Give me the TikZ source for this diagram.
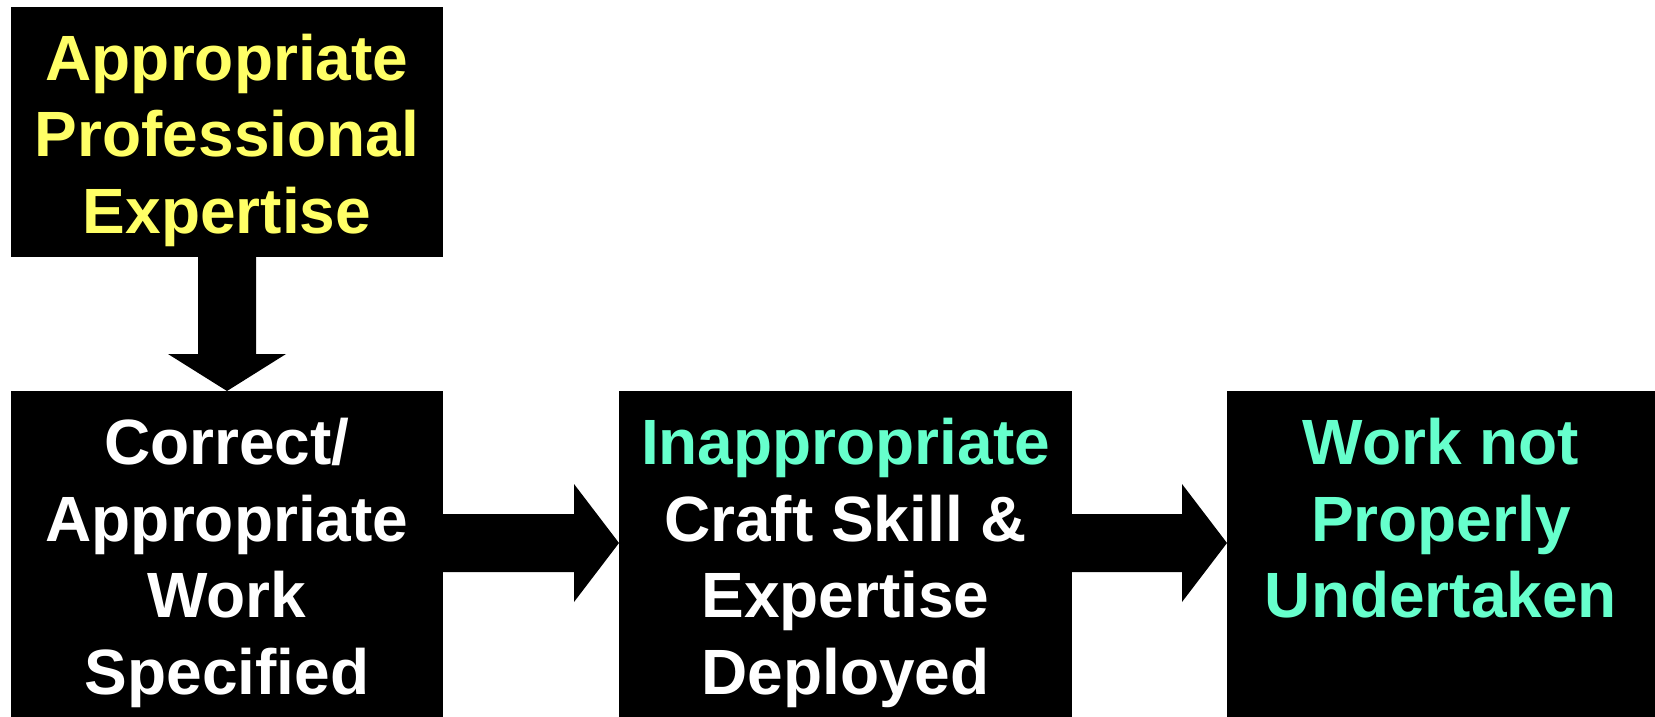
\documentclass[tikz,border=0pt]{standalone}
\usepackage{fontspec}
\setmainfont{Liberation Sans}
\usetikzlibrary{calc}
\definecolor{ylw}{HTML}{FFFF66}
\definecolor{aqua}{HTML}{66FFCC}
\tikzset{
  box/.style={fill=black, draw=none, inner sep=0pt, outer sep=0pt, rectangle},
  label/.style={inner sep=0pt, outer sep=0pt, anchor=north, align=center,
    font=\fontsize{64}{76.5}\selectfont\bfseries},
  blockarrow/.style={fill=black, draw=none}
}
\begin{document}
\begin{tikzpicture}[x=1pt, y=-1pt]
\useasboundingbox (0,0) rectangle (1655,717);
% boxes
\node[box, minimum width=432, minimum height=250] (top) at (227,132) {};
\node[box, minimum width=432, minimum height=326] (b1) at (227,554) {};
\node[box, minimum width=453, minimum height=326] (b2) at (845.5,554) {};
\node[box, minimum width=428, minimum height=326] (b3) at (1441,554) {};
% texts
\node[label, text=ylw] (t0) at (227,34) {Appropriate\\Professional\\Expertise};
\node[label, text=white] (t1) at (227,418.5) {Correct/\\Appropriate\\Work\\Specified};
\node[label, text=white] (t2) at (845.5,418.5) {\textcolor{aqua}{Inappropriate}\\Craft Skill \&\\Expertise\\Deployed};
\node[label, text=aqua] (t3) at (1441,418.5) {Work not\\Properly\\Undertaken};
% down arrow
\coordinate (d0) at (top.south);
\coordinate (d1) at (b1.north);
\fill[blockarrow] ($(d0)+(-29,0)$) -- ($(d1)+(-29,-37)$) -- ($(d1)+(-59,-37)$) -- (d1)
  -- ($(d1)+(59,-37)$) -- ($(d1)+(29,-37)$) -- ($(d0)+(29,0)$) -- cycle;
% right arrow 1
\coordinate (r0) at ($(b1.north east)+(0,152)$);
\coordinate (r1) at ($(b2.north west)+(0,152)$);
\fill[blockarrow] ($(r0)+(0,-29)$) -- ($(r1)+(-45,-29)$) -- ($(r1)+(-45,-59)$) -- (r1)
  -- ($(r1)+(-45,59)$) -- ($(r1)+(-45,29)$) -- ($(r0)+(0,29)$) -- cycle;
% right arrow 2
\coordinate (s0) at ($(b2.north east)+(0,152)$);
\coordinate (s1) at ($(b3.north west)+(0,152)$);
\fill[blockarrow] ($(s0)+(0,-29)$) -- ($(s1)+(-45,-29)$) -- ($(s1)+(-45,-59)$) -- (s1)
  -- ($(s1)+(-45,59)$) -- ($(s1)+(-45,29)$) -- ($(s0)+(0,29)$) -- cycle;
\end{tikzpicture}
\end{document}
